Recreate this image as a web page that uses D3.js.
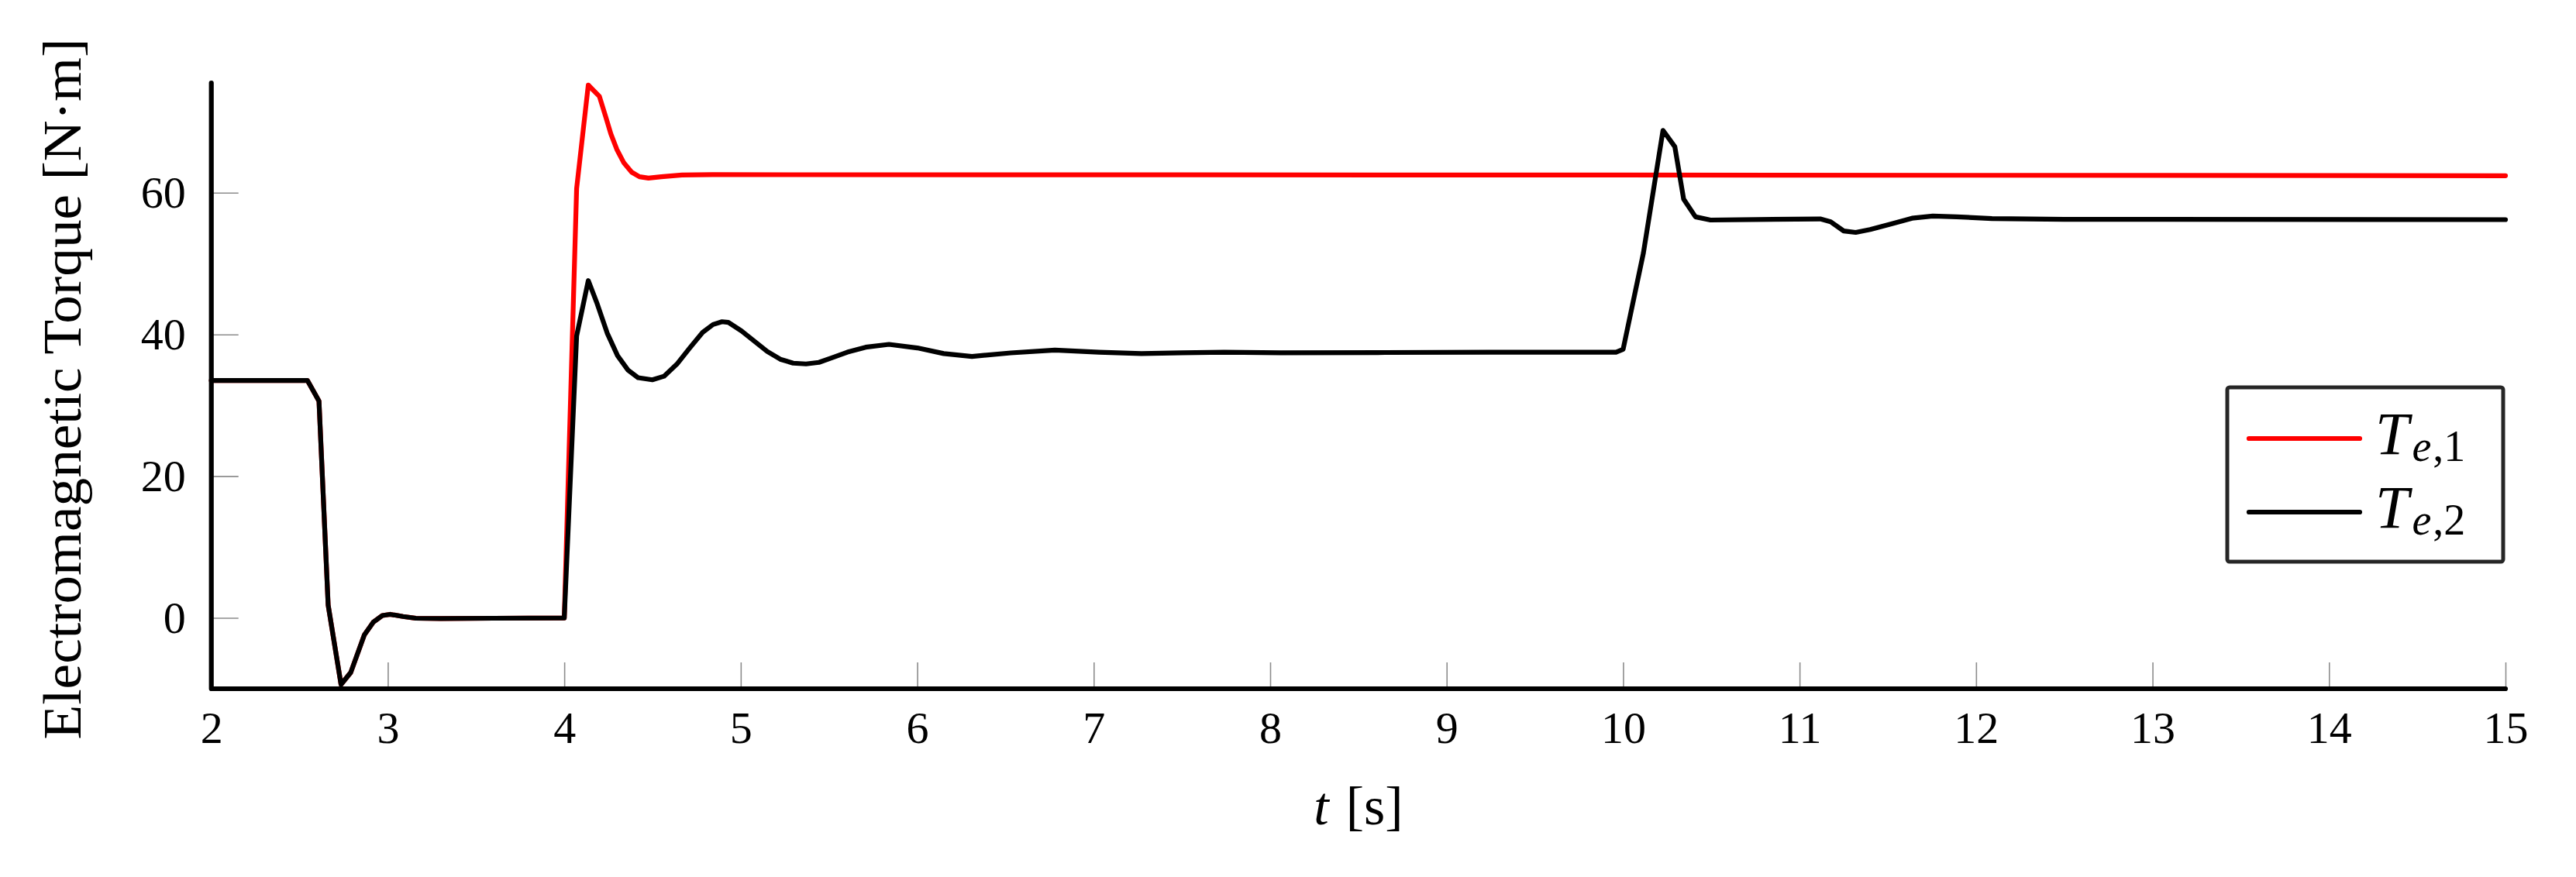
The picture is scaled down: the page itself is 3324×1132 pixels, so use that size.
<!DOCTYPE html>
<html>
<head>
<meta charset="utf-8">
<script src="https://cdn.jsdelivr.net/npm/d3@7"></script>
<style>
  body { margin: 0; background: #fff; }
  text { font-family: "Liberation Serif", "DejaVu Serif", serif; fill: #000; }
</style>
</head>
<body>
<div id="chart"></div>
<script>
// time axis ticks and torque ticks
var xTicks = [2, 3, 4, 5, 6, 7, 8, 9, 10, 11, 12, 13, 14, 15];
var yTicks = [0, 20, 40, 60];

// T_e,1 (red)
var t1 = [2.0, 2.545, 2.61, 2.662, 2.735, 2.79, 2.867, 2.918, 2.969, 3.013, 3.086, 3.159, 3.3, 3.6, 4.0,
          4.07, 4.136, 4.199, 4.235, 4.264, 4.298, 4.338, 4.382, 4.426, 4.477, 4.55, 4.667, 4.84, 10.0, 15.0];
var te1 = [33.5, 33.5, 30.6, 1.8, -9.4, -7.7, -2.4, -0.6, 0.33, 0.5, 0.2, -0.05, -0.1, -0.05, 0,
           60.6, 75.2, 73.6, 70.7, 68.3, 66.1, 64.2, 62.9, 62.26, 62.07, 62.26, 62.5, 62.55, 62.5, 62.4];

// T_e,2 (black)
var t2 = [2.0, 2.545, 2.61, 2.662, 2.735, 2.79, 2.867, 2.918, 2.969, 3.013, 3.086, 3.159, 3.3, 3.6, 4.0,
          4.07, 4.136, 4.184, 4.243, 4.302, 4.36, 4.418, 4.499, 4.565, 4.638, 4.711, 4.784, 4.843, 4.894, 4.93,
          5.004, 5.077, 5.15, 5.224, 5.297, 5.37, 5.443, 5.516, 5.604, 5.708, 5.84, 6.0, 6.15, 6.31, 6.53,
          6.78, 7.03, 7.27, 7.5, 7.74, 8.06, 8.65, 9.24, 9.96, 10.0, 10.115, 10.226, 10.293, 10.343, 10.41,
          10.495, 11.117, 11.176, 11.25, 11.318, 11.4, 11.52, 11.637, 11.755, 11.89, 12.09, 12.5, 15.0];
var te2 = [33.5, 33.5, 30.6, 1.8, -9.4, -7.7, -2.4, -0.6, 0.33, 0.5, 0.2, -0.05, -0.1, -0.05, 0,
           39.8, 47.6, 44.5, 40.2, 37.0, 35.0, 33.9, 33.6, 34.1, 35.8, 38.1, 40.3, 41.4, 41.8, 41.7,
           40.5, 39.05, 37.6, 36.5, 35.95, 35.84, 36.06, 36.7, 37.5, 38.2, 38.6, 38.1, 37.3, 36.9, 37.4,
           37.8, 37.5, 37.3, 37.4, 37.5, 37.4, 37.45, 37.5, 37.5, 37.9, 51.5, 68.8, 66.5, 59.1, 56.6,
           56.15, 56.3, 55.9, 54.6, 54.4, 54.8, 55.6, 56.4, 56.7, 56.6, 56.35, 56.25, 56.2];

var seriesNames = ["T_e,1", "T_e,2"];
var seriesColors = ["#ff0000", "#000000"];

var W = 3324, H = 1132;
// plot box (window.top is reserved, so keep these in an object)
var m = { left: 272.7, right: 3233, top: 107, bottom: 889 };
var lw = 6.2;

var svg = d3.select("#chart").append("svg")
    .attr("width", W).attr("height", H);

var x = d3.scaleLinear().domain([2, 15]).range([m.left, m.right]);
var y = d3.scaleLinear().domain([-10, 75.5]).range([m.bottom, m.top]);

// ticks (thin grey, pointing inwards)
var xAxis = svg.append("g")
    .attr("transform", "translate(0," + m.bottom + ")")
    .call(d3.axisBottom(x).tickValues(xTicks).tickSize(-34).tickPadding(29).tickFormat(d3.format("d")));
var yAxis = svg.append("g")
    .attr("transform", "translate(" + m.left + ",0)")
    .call(d3.axisLeft(y).tickValues(yTicks).tickSize(-35).tickPadding(33).tickFormat(d3.format("d")));

[xAxis, yAxis].forEach(function(a){
    a.select(".domain").remove();
    a.selectAll(".tick line").attr("stroke", "#8c8c8c").attr("stroke-width", 1.6);
    a.selectAll(".tick text")
        .attr("font-family", "Liberation Serif, serif")
        .attr("font-size", 58)
        .attr("fill", "#000");
});

// curves
var line = d3.line()
    .x(function(d){ return x(d[0]); })
    .y(function(d){ return y(d[1]); });

var series = [d3.zip(t1, te1), d3.zip(t2, te2)];
svg.append("g")
  .selectAll("path")
  .data(series)
  .enter().append("path")
    .attr("d", line)
    .attr("fill", "none")
    .attr("stroke", function(d, i){ return seriesColors[i]; })
    .attr("stroke-width", lw)
    .attr("stroke-linejoin", "round")
    .attr("stroke-linecap", "round");

// axis lines (left + bottom only)
svg.append("path")
    .attr("d", "M" + m.left + "," + m.top + "V" + m.bottom + "H" + m.right)
    .attr("fill", "none")
    .attr("stroke", "#000")
    .attr("stroke-width", lw)
    .attr("stroke-linecap", "round")
    .attr("stroke-linejoin", "round");

// axis titles
var xl = svg.append("text")
    .attr("x", (m.left + m.right) / 2)
    .attr("y", 1064)
    .attr("text-anchor", "middle")
    .attr("font-size", 70);
xl.append("tspan").attr("font-style", "italic").text("t");
xl.append("tspan").attr("dx", 22).text("[s]");

svg.append("text")
    .attr("transform", "translate(104,502) rotate(-90)")
    .attr("text-anchor", "middle")
    .attr("font-size", 70)
    .attr("textLength", 905)
    .attr("lengthAdjust", "spacingAndGlyphs")
    .text("Electromagnetic Torque [N\u00B7m]");

// legend
var lg = svg.append("g").attr("transform", "translate(2874,500)");
lg.append("rect")
    .attr("width", 356).attr("height", 225)
    .attr("rx", 3)
    .attr("fill", "#fff")
    .attr("stroke", "#262626")
    .attr("stroke-width", 5);

var rows = lg.selectAll("g.row")
    .data(seriesNames)
    .enter().append("g")
    .attr("class", "row")
    .attr("transform", function(d, i){ return "translate(0," + (66 + i * 95) + ")"; });

rows.append("line")
    .attr("x1", 28).attr("x2", 171)
    .attr("stroke", function(d, i){ return seriesColors[i]; })
    .attr("stroke-width", lw)
    .attr("stroke-linecap", "round");

var lt = rows.append("text")
    .attr("x", 191)
    .attr("y", 20)
    .attr("font-size", 78);
lt.append("tspan").attr("font-style", "italic").text("T");
lt.append("tspan").attr("font-size", 56).attr("dy", 9).attr("dx", 4).attr("font-style", "italic").text("e");
lt.append("tspan").attr("font-size", 56).attr("dx", 2).text(function(d){ return "," + d.split(",")[1]; });
</script>
</body>
</html>
